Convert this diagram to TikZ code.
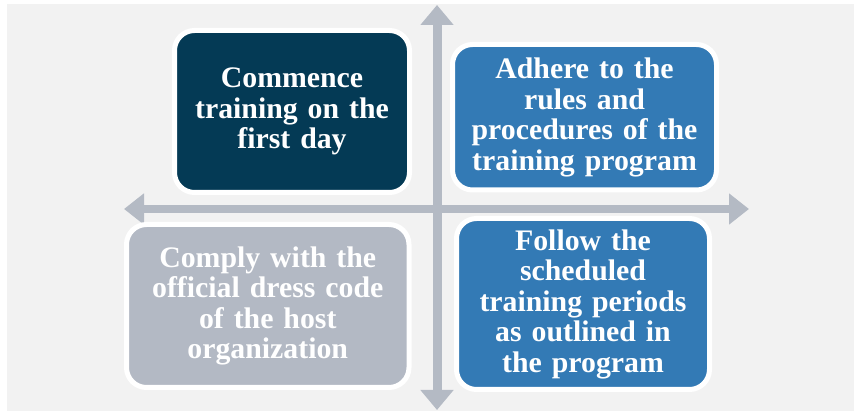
\documentclass[tikz,border=0pt]{standalone}
\usepackage{fontspec}
\setmainfont{Liberation Serif}
\usetikzlibrary{arrows.meta}
\definecolor{bggray}{HTML}{F2F2F2}
\definecolor{navy}{HTML}{043A55}
\definecolor{midblue}{HTML}{337AB5}
\definecolor{boxgray}{HTML}{B3B9C4}
\definecolor{arrowgray}{HTML}{B4BAC4}
\tikzset{
  quad/.style={draw=white, line width=5pt, rounded corners=20pt, align=center,
    text=white, inner sep=0pt,
    font=\fontsize{29.8}{30.5}\selectfont\bfseries},
  axisarrow/.style={draw=arrowgray, line width=#1,
    arrows={Triangle[length=20pt,width=32pt]-Triangle[length=20pt,width=32pt]}},
}
\begin{document}
\begin{tikzpicture}[x=1pt,y=-1pt]
\useasboundingbox (0,0) rectangle (854,411);
\fill[bggray] (7,4) rectangle (854,411);
% axes
\coordinate (top) at (437,5);
\coordinate (bot) at (437,410);
\coordinate (lft) at (124,209);
\coordinate (rgt) at (749,209);
\draw[axisarrow=9pt] (top) -- (bot);
\draw[draw=arrowgray, line width=8.5pt,
  arrows={Triangle[length=20pt,width=30pt]-Triangle[length=20pt,width=30pt]}] (lft) -- (rgt);
% boxes
\node[quad, fill=navy, minimum width=235pt, minimum height=162pt, text width=229pt]
  (tl) at (292,111.5) {Commence\\training on the\\first day};
\node[quad, fill=midblue, minimum width=264pt, minimum height=145.5pt, text width=258pt]
  (tr) at (584.5,117.25) {Adhere to the\\rules and\\procedures of the\\training program};
\node[quad, fill=boxgray, minimum width=282.5pt, minimum height=163pt, text width=276pt]
  (bl) at (267.75,306) {Comply with the\\official dress code\\of the host\\organization};
\node[quad, fill=midblue, minimum width=253pt, minimum height=171pt, text width=247pt]
  (br) at (583,304) {Follow the\\scheduled\\training periods\\as outlined in\\the program};
\end{tikzpicture}
\end{document}
